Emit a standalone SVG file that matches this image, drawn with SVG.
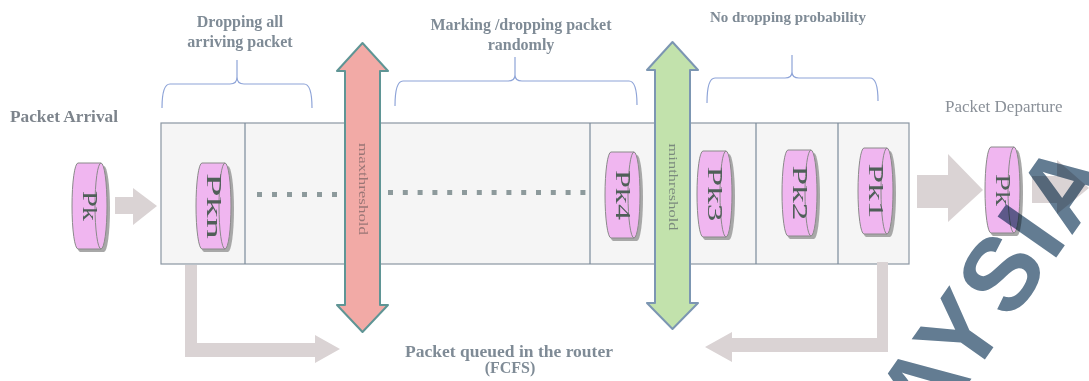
<svg xmlns="http://www.w3.org/2000/svg" xmlns:xlink="http://www.w3.org/1999/xlink" width="1089" height="381" viewBox="0 0 1089 381">
<defs>
<style>
.lbl{font-family:"Liberation Serif",serif;font-weight:bold;fill:#7f8b96;font-size:16px;text-anchor:middle}
.side{font-family:"Liberation Serif",serif;fill:#7d848c;font-size:16px}
.pkt{font-family:"Liberation Serif",serif;fill:#4f5f58;font-size:20px;text-anchor:middle}
.thr{font-family:"Liberation Serif",serif;font-size:12px;text-anchor:middle}
.brace{fill:none;stroke:#8ea4d8;stroke-width:1.2}
.garrow{fill:#dad3d4}
.cell{fill:#f5f5f5;stroke:#8a96a2;stroke-width:1.2}
.div{stroke:#7a8a9a;stroke-width:1.2}
.dot{fill:#8d9a9c}
.canbody{fill:#f0b6f0;stroke:#8a8a8a;stroke-width:1}
.canshadow{fill:#a8a8a8}
.wm{font-family:"Liberation Sans",Arial,sans-serif;font-weight:bold;font-size:104px;letter-spacing:3px;fill:#637c92}
</style>
<g id="can">
<path class="canshadow" d="M8,3 L32,3 A6,43 0 0 1 32,89 L8,89 A6,43 0 0 1 8,3 Z"/>
<path class="canbody" d="M6,0 L29,0 A6,43 0 0 1 29,86 L6,86 A6,43 0 0 1 6,0 Z"/>
<path fill="none" stroke="#8a8a8a" stroke-width="1" d="M29,0 A6,43 0 0 0 29,86"/>
</g>
</defs>
<rect width="1089" height="381" fill="#ffffff"/>

<g id="labels">
<text class="lbl" x="240" y="27">Dropping all</text>
<text class="lbl" x="240" y="47">arriving packet</text>
<text class="lbl" x="521" y="30">Marking /dropping packet</text>
<text class="lbl" x="521" y="50">randomly</text>
<text class="lbl" x="788" y="22" style="font-size:15px">No dropping probability</text>
<text class="side" x="10" y="122" font-weight="bold" textLength="108" lengthAdjust="spacingAndGlyphs">Packet Arrival</text>
<text class="side" x="945" y="112" style="font-size:17px;fill:#8a9098">Packet Departure</text>
<text class="lbl" x="509" y="357" textLength="208" lengthAdjust="spacingAndGlyphs">Packet queued in the router</text>
<text class="lbl" x="510" y="373">(FCFS)</text>
</g>

<g id="braces">
<path class="brace" d="M162,108 Q162,84 170,84 L230,84 Q237,84 237,77 L237,60 M237,77 Q237,84 244,84 L304,84 Q312,84 312,108"/>
<path class="brace" d="M395,106 Q395,81 403,81 L508,81 Q515,81 515,75 L515,57 M515,75 Q515,81 522,81 L629,81 Q637,81 637,105"/>
<path class="brace" d="M707,103 Q707,78 715,78 L785,78 Q792,78 792,72 L792,55 M792,72 Q792,78 799,78 L870,78 Q878,78 878,101"/>
</g>

<g id="queue">
<rect class="cell" x="161" y="123" width="748" height="141"/>
<line class="div" x1="245" y1="123" x2="245" y2="264"/>
<line class="div" x1="590" y1="123" x2="590" y2="264"/>
<line class="div" x1="673" y1="123" x2="673" y2="264"/>
<line class="div" x1="756" y1="123" x2="756" y2="264"/>
<line class="div" x1="838" y1="123" x2="838" y2="264"/>
</g>

<g id="dots">
<rect class="dot" x="257" y="192" width="5" height="5"/>
<rect class="dot" x="272" y="192" width="5" height="5"/>
<rect class="dot" x="287" y="192" width="5" height="5"/>
<rect class="dot" x="302" y="192" width="5" height="5"/>
<rect class="dot" x="317" y="192" width="5" height="5"/>
<rect class="dot" x="332" y="192" width="5" height="5"/>
<rect class="dot" x="388" y="190" width="5" height="5"/>
<rect class="dot" x="402.8" y="190" width="5" height="5"/>
<rect class="dot" x="417.6" y="190" width="5" height="5"/>
<rect class="dot" x="432.4" y="190" width="5" height="5"/>
<rect class="dot" x="447.2" y="190" width="5" height="5"/>
<rect class="dot" x="462" y="190" width="5" height="5"/>
<rect class="dot" x="476.8" y="190" width="5" height="5"/>
<rect class="dot" x="491.6" y="190" width="5" height="5"/>
<rect class="dot" x="506.4" y="190" width="5" height="5"/>
<rect class="dot" x="521.2" y="190" width="5" height="5"/>
<rect class="dot" x="536" y="190" width="5" height="5"/>
<rect class="dot" x="550.8" y="190" width="5" height="5"/>
<rect class="dot" x="565.6" y="190" width="5" height="5"/>
<rect class="dot" x="580.4" y="190" width="5" height="5"/>
</g>

<g id="connectors">
<polygon class="garrow" points="115,197 133,197 133,188 157,206 133,225 133,214 115,214"/>
<polygon class="garrow" points="917,175 948,175 948,154 983,190 948,222 948,208 917,208"/>
<polygon class="garrow" points="1032,176 1057,176 1057,160 1089,188 1057,214 1057,203 1032,203"/>
<path class="garrow" d="M185,265 L197,265 L197,343 L315,343 L315,335 L340,349 L315,363 L315,357 L185,357 Z"/>
<path class="garrow" d="M877,262 L888,262 L888,352 L732,352 L732,362 L705,347 L732,332 L732,338 L877,338 Z"/>
</g>

<g id="maxthreshold">
<polygon points="362.5,43 388,71 380,71 380,305 388,305 362.5,332 337,305 345,305 345,71 337,71" fill="#f2aaa6" stroke="#5f9595" stroke-width="2" stroke-linejoin="round"/>
<text class="thr" fill="#9a7676" transform="translate(362.5,189) rotate(90)" y="4" textLength="92" lengthAdjust="spacingAndGlyphs">maxthreshold</text>
</g>

<g id="minthreshold">
<polygon points="672.5,42 698,70 690,70 690,303 698,303 672.5,329 647,303 655,303 655,70 647,70" fill="#c2e2ac" stroke="#7c96b2" stroke-width="2" stroke-linejoin="round"/>
<text class="thr" fill="#7b8a7e" transform="translate(672.5,187) rotate(90)" y="4" textLength="87" lengthAdjust="spacingAndGlyphs">minthreshold</text>
</g>

<g id="pk-arrival">
<use xlink:href="#can" transform="translate(72,163)"/>
<text class="pkt" transform="translate(89.5,206) rotate(90)" y="7" textLength="30" lengthAdjust="spacingAndGlyphs">Pk</text>
</g>
<g id="pkn">
<use xlink:href="#can" transform="translate(196,163)"/>
<text class="pkt" transform="translate(213.5,206) rotate(90)" y="7" textLength="66" lengthAdjust="spacingAndGlyphs">Pkn</text>
</g>
<g id="pk4">
<use xlink:href="#can" transform="translate(605,152)"/>
<text class="pkt" transform="translate(622.5,195) rotate(90)" y="7" textLength="50" lengthAdjust="spacingAndGlyphs">Pk4</text>
</g>
<g id="pk3">
<use xlink:href="#can" transform="translate(697,151)"/>
<text class="pkt" transform="translate(714.5,194) rotate(90)" y="7" textLength="55" lengthAdjust="spacingAndGlyphs">Pk3</text>
</g>
<g id="pk2">
<use xlink:href="#can" transform="translate(782,150)"/>
<text class="pkt" transform="translate(799.5,193) rotate(90)" y="7" textLength="55" lengthAdjust="spacingAndGlyphs">Pk2</text>
</g>
<g id="pk1">
<use xlink:href="#can" transform="translate(858,148)"/>
<text class="pkt" transform="translate(875.5,191) rotate(90)" y="7" textLength="55" lengthAdjust="spacingAndGlyphs">Pk1</text>
</g>
<g id="pk-departure">
<use xlink:href="#can" transform="translate(985,147)"/>
<text class="pkt" transform="translate(1002.5,190) rotate(90)" y="7" textLength="32" lengthAdjust="spacingAndGlyphs">Pk</text>
</g>

<g id="watermark">
<text class="wm" transform="translate(930,438) rotate(-55)" style="mix-blend-mode:multiply">AYSIA</text>
</g>
</svg>
